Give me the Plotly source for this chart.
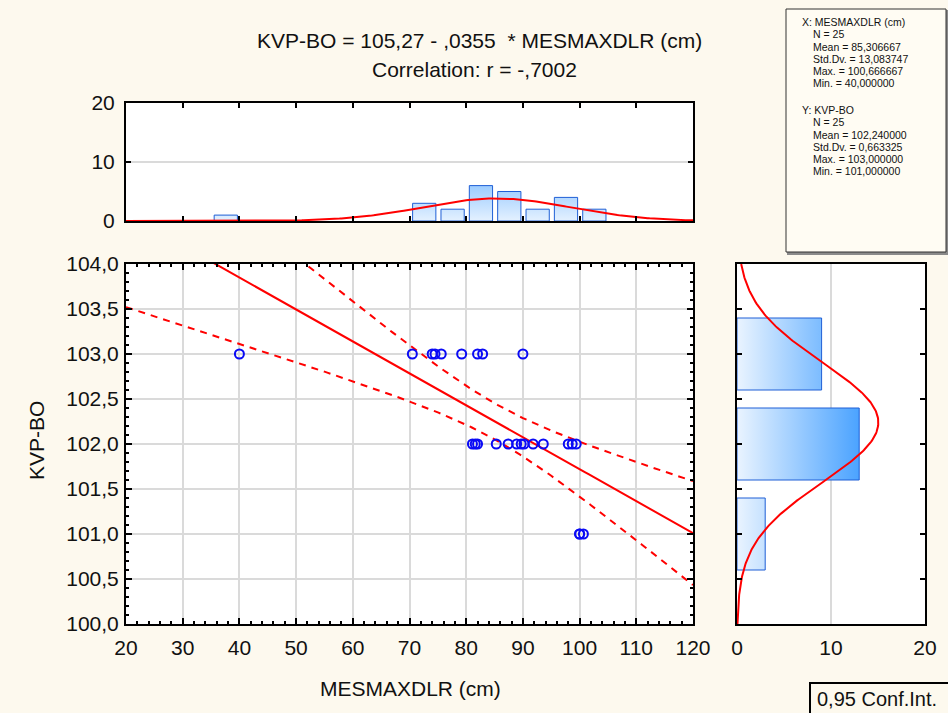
import numpy as np
import plotly.graph_objects as go

W, H = 948, 713
FONT = "Liberation Sans, Arial, sans-serif"
BG = "#FDF9EE"
FS = 21

# ---------------- data ----------------
mesmaxdlr = [40.0, 70.5, 74.0, 74.5, 75.6, 79.2, 82.0, 82.9, 90.0,
             81.1, 81.6, 82.0, 85.3, 87.4, 88.9, 89.7, 90.2, 91.8, 93.6, 98.0, 98.7, 99.4,
             100.0, 100.0, 100.67]
kvp_bo = [103] * 9 + [102] * 13 + [101] * 3

# top histogram of MESMAXDLR (bin lower edges, width 5)
x_bin_starts = [35, 70, 75, 80, 85, 90, 95, 100]
x_bin_counts = [1, 3, 2, 6, 5, 2, 4, 2]
x_bin_width = 5

# right histogram of KVP-BO (bin centres, width 1)
y_bin_centers = [101, 102, 103]
y_bin_counts = [3, 13, 9]
y_bin_width = 1

# statistics printed on the chart
n = 25
intercept = 105.27
slope = -0.0355
r = -0.7002
x_mean, x_sd, x_max, x_min = 85.306667, 13.083747, 100.666667, 40.0
y_mean, y_sd, y_max, y_min = 102.24, 0.663325, 103.0, 101.0
t_975 = 2.0687  # t(0.975, n-2)

x_ticks = [20, 30, 40, 50, 60, 70, 80, 90, 100, 110, 120]

def fmt(v, d=6):
    return f"{v:.{d}f}".replace(".", ",")

# ---------------- helpers ----------------
def px(x):
    return x / W

def py(y):
    return 1 - y / H

BLUE_EDGE = "#1F5FD6"
GRID = "#DADADA"

fig = go.Figure()

# regression line and confidence band
xs = np.linspace(20, 120, 201)
yhat = intercept + slope * xs
s_res = y_sd * np.sqrt(1 - r ** 2) * np.sqrt((n - 1) / (n - 2))
sxx = (n - 1) * x_sd ** 2
half = t_975 * s_res * np.sqrt(1 / n + (xs - x_mean) ** 2 / sxx)

fig.add_trace(go.Scatter(x=xs, y=yhat, mode="lines", line=dict(color="#FF0000", width=2),
                         xaxis="x", yaxis="y", hoverinfo="skip", showlegend=False))
for sign in (1, -1):
    fig.add_trace(go.Scatter(x=xs, y=yhat + sign * half, mode="lines",
                             line=dict(color="#FF0000", width=2, dash="7px,6px"),
                             xaxis="x", yaxis="y", hoverinfo="skip", showlegend=False))

fig.add_trace(go.Scatter(x=mesmaxdlr, y=kvp_bo, mode="markers",
                         marker=dict(symbol="circle-open", size=9, color="#0A0AF5",
                                     line=dict(width=2, color="#0A0AF5")),
                         xaxis="x", yaxis="y", showlegend=False))

# top histogram bars (vertical gradient)
bx, by = [], []
for s, c in zip(x_bin_starts, x_bin_counts):
    x0, x1 = s + 0.55, s + 4.65
    bx += [x0, x0, x1, x1, x0, None]
    by += [0, c, c, 0, 0, None]
fig.add_trace(go.Scatter(x=bx, y=by, mode="lines", fill="toself",
                         line=dict(color=BLUE_EDGE, width=1),
                         fillgradient=dict(type="vertical",
                                           colorscale=[[0, "#E4F1FF"], [1, "#96C9FF"]],
                                           start=0, stop=6.5),
                         xaxis="x2", yaxis="y2", hoverinfo="skip", showlegend=False))

xcurve = np.linspace(20, 120, 301)
ycurve = n * x_bin_width * np.exp(-0.5 * ((xcurve - x_mean) / x_sd) ** 2) / (x_sd * np.sqrt(2 * np.pi))
fig.add_trace(go.Scatter(x=xcurve, y=ycurve, mode="lines", line=dict(color="#FF0000", width=2),
                         xaxis="x2", yaxis="y2", hoverinfo="skip", showlegend=False))

# right histogram bars (horizontal gradient)
rx, ry = [], []
for cy, c in zip(y_bin_centers, y_bin_counts):
    y0, y1 = cy - 0.4 * y_bin_width, cy + 0.4 * y_bin_width
    rx += [0, c, c, 0, 0, None]
    ry += [y0, y0, y1, y1, y0, None]
fig.add_trace(go.Scatter(x=rx, y=ry, mode="lines", fill="toself",
                         line=dict(color=BLUE_EDGE, width=1),
                         fillgradient=dict(type="horizontal",
                                           colorscale=[[0, "#EAF4FF"], [1, "#4BA3FF"]],
                                           start=0, stop=13),
                         xaxis="x3", yaxis="y3", hoverinfo="skip", showlegend=False))

ycv = np.linspace(100, 104, 301)
xcv = n * y_bin_width * np.exp(-0.5 * ((ycv - y_mean) / y_sd) ** 2) / (y_sd * np.sqrt(2 * np.pi))
fig.add_trace(go.Scatter(x=xcv, y=ycv, mode="lines", line=dict(color="#FF0000", width=2),
                         xaxis="x3", yaxis="y3", hoverinfo="skip", showlegend=False))

# ---------------- layout ----------------
tickfont = dict(family=FONT, size=FS, color="#111111")
frame = dict(showline=True, linecolor="#000000", linewidth=2, mirror="allticks",
             zeroline=False, tickcolor="#000000", tickwidth=1.5, automargin=False)

main_x_dom = [px(126), px(693)]
main_y_dom = [py(624), py(264)]

fig.update_layout(
    width=W, height=H,
    margin=dict(l=0, r=0, t=0, b=0, autoexpand=False),
    paper_bgcolor=BG,
    plot_bgcolor="#FFFFFF",
    separators=", ",
    font=dict(family=FONT, size=FS, color="#111111"),
    showlegend=False,
    xaxis=dict(domain=main_x_dom, anchor="y", range=[20, 120], tickvals=x_ticks,
               showgrid=True, gridcolor=GRID, gridwidth=2,
               ticks="inside", ticklen=6, ticklabelstandoff=4,
               minor=dict(dtick=2, tick0=20, ticks="inside", ticklen=3, tickcolor="#000000", showgrid=False),
               tickfont=tickfont, **frame),
    yaxis=dict(domain=main_y_dom, anchor="x", range=[100, 104], dtick=0.5, tick0=100,
               tickformat=".1f", showgrid=True, gridcolor=GRID, gridwidth=2,
               ticks="inside", ticklen=6, ticklabelstandoff=1,
               minor=dict(dtick=0.1, tick0=100, ticks="inside", ticklen=3, tickcolor="#000000", showgrid=False),
               tickfont=tickfont, **frame),
    xaxis2=dict(domain=main_x_dom, anchor="y2", range=[20, 120], dtick=10, tick0=20,
                showticklabels=False, showgrid=False, ticks="inside", ticklen=5, **frame),
    yaxis2=dict(domain=[py(221), py(103)], anchor="x2", range=[0, 20], dtick=10,
                showgrid=True, gridcolor=GRID, gridwidth=2, ticks="inside", ticklen=5,
                ticklabelstandoff=5, tickfont=tickfont, **frame),
    xaxis3=dict(domain=[px(737), px(925)], anchor="y3", range=[0, 20], dtick=10,
                showgrid=True, gridcolor=GRID, gridwidth=2, ticks="", ticklabelstandoff=4,
                tickfont=tickfont, **frame),
    yaxis3=dict(domain=main_y_dom, anchor="x3", range=[100, 104], dtick=0.5,
                showticklabels=False, showgrid=False, ticks="inside", ticklen=5, **frame),
)

ann = []
ann.append(dict(text="KVP-BO = 105,27 - ,0355 \u00a0* MESMAXDLR (cm)", x=px(479), y=py(40)))
ann.append(dict(text="Correlation: r = -,7002", x=px(474), y=py(69)))
ann.append(dict(text="MESMAXDLR (cm)", x=px(410), y=py(688)))
ann.append(dict(text="KVP-BO", x=px(36), y=py(441), textangle=-90))
for a in ann:
    a.update(xref="paper", yref="paper", showarrow=False, xanchor="center", yanchor="middle",
             font=dict(family=FONT, size=FS, color="#111111"))

stats_x = ["X: MESMAXDLR (cm)", f"N = {n}", f"Mean = {fmt(x_mean)}", f"Std.Dv. = {fmt(x_sd)}",
           f"Max. = {fmt(x_max)}", f"Min. = {fmt(x_min)}"]
stats_y = ["Y: KVP-BO", f"N = {n}", f"Mean = {fmt(y_mean)}", f"Std.Dv. = {fmt(y_sd)}",
           f"Max. = {fmt(y_max)}", f"Min. = {fmt(y_min)}"]
for block, y0 in ((stats_x, 22), (stats_y, 110)):
    for i, t in enumerate(block):
        ann.append(dict(text=t, x=px(800 if i == 0 else 811), y=py(y0 + i * 12.3),
                        xref="paper", yref="paper", showarrow=False, xanchor="left",
                        yanchor="middle", font=dict(family=FONT, size=10.5, color="#111111")))

ann.append(dict(text="0,95 Conf.Int.", x=px(815), y=py(699), xref="paper", yref="paper",
                showarrow=False, xanchor="left", yanchor="middle",
                font=dict(family=FONT, size=FS - 1, color="#111111")))
fig.update_layout(annotations=ann)

fig.update_layout(shapes=[
    dict(type="rect", xref="paper", yref="paper", x0=px(788), x1=px(948), y0=py(254), y1=py(11),
         line=dict(color="#8A8A8A", width=2), fillcolor="#8A8A8A", layer="below"),
    dict(type="rect", xref="paper", yref="paper", x0=px(786), x1=px(946), y0=py(252), y1=py(9),
         line=dict(color="#333333", width=1), fillcolor="#FFFCF3", layer="below"),
    dict(type="rect", xref="paper", yref="paper", x0=px(810), x1=px(952), y0=py(717), y1=py(683),
         line=dict(color="#000000", width=2), fillcolor="rgba(0,0,0,0)"),
])

fig.write_html(
    "out.html",
    config={"displayModeBar": False},
    post_script=(
        "document.body.style.margin='0';"
        "document.body.style.padding='0';"
        "document.body.style.overflow='hidden';"
        f"document.body.style.background='{BG}';"
    ),
)
